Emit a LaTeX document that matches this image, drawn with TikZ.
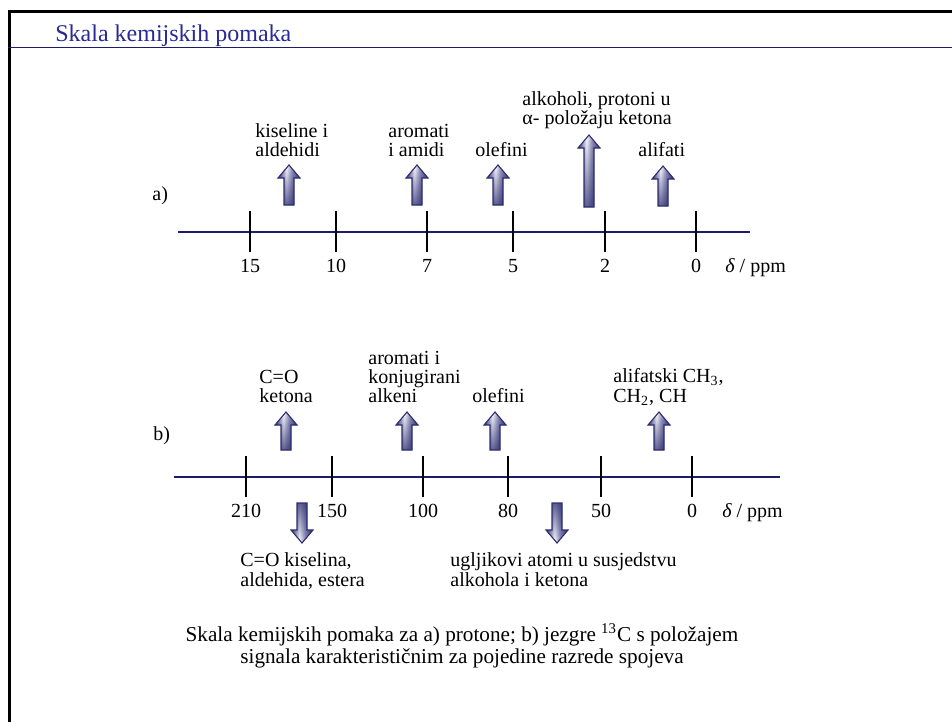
\documentclass[tikz,border=0pt]{standalone}
\usepackage{fontspec}
\setmainfont[Ligatures=NoCommon]{Liberation Serif}
\usetikzlibrary{fadings}
\definecolor{navy}{RGB}{28,28,105}
\definecolor{titleblue}{RGB}{40,40,150}
\definecolor{arrdark}{RGB}{45,45,110}
\definecolor{arrmid}{RGB}{150,150,195}
\pgfdeclarehorizontalshading{arrsh}{100bp}{color(0bp)=(arrdark); color(25bp)=(arrdark); color(34bp)=(arrmid); color(44bp)=(white); color(56bp)=(arrmid); color(75bp)=(arrdark); color(100bp)=(arrdark)}
\tikzfading[name=tailbottom, top color=transparent!100, middle color=transparent!90, bottom color=transparent!25]
\tikzfading[name=tailtop, top color=transparent!25, middle color=transparent!90, bottom color=transparent!100]
\newcommand\UpArr[3]{%
  \path[blockarr] (#1-5,#3) -- (#1-5,#2+13) -- (#1-11,#2+13) -- (#1,#2) -- (#1+11,#2+13) -- (#1+5,#2+13) -- (#1+5,#3) -- cycle;
  \path[fill=arrdark, path fading=tailbottom] (#1-5,#3) -- (#1-5,#2+13) -- (#1-11,#2+13) -- (#1,#2) -- (#1+11,#2+13) -- (#1+5,#2+13) -- (#1+5,#3) -- cycle;}
\newcommand\DownArr[3]{%
  \path[blockarr] (#1-5,#2) -- (#1-5,#3-13) -- (#1-11,#3-13) -- (#1,#3) -- (#1+11,#3-13) -- (#1+5,#3-13) -- (#1+5,#2) -- cycle;
  \path[fill=arrdark, path fading=tailtop] (#1-5,#2) -- (#1-5,#3-13) -- (#1-11,#3-13) -- (#1,#3) -- (#1+11,#3-13) -- (#1+5,#3-13) -- (#1+5,#2) -- cycle;}
\begin{document}
\begin{tikzpicture}[x=0.5pt,y=-0.5pt,
  blockarr/.style={draw=arrdark, line width=0.55pt, shading=arrsh, line join=miter},
  lbl/.style={anchor=base west, inner sep=0pt, font=\fontsize{10}{12}\selectfont},
  num/.style={anchor=base, inner sep=0pt, font=\fontsize{10}{12}\selectfont},
  captext/.style={anchor=base, inner sep=0pt, font=\fontsize{10.6}{12}\selectfont},
  axisline/.style={draw=navy, line width=1.2pt},
  tickline/.style={draw=black, line width=1pt},
  frameline/.style={draw=black, line width=1.5pt}]
\useasboundingbox (0,0) rectangle (952,722);
% frame and title
\coordinate (ftl) at (9,11.5);
\coordinate (ftr) at (952,11.5);
\coordinate (fbl) at (9,722);
\draw[frameline] (ftr) -- (ftl) -- (fbl);
\coordinate (ul) at (8,47.3);
\coordinate (ur) at (952,47.3);
\draw[navy, line width=0.55pt] (ul) -- (ur);
\node[anchor=base west, inner sep=0pt, text=titleblue, font=\fontsize{12}{14}\selectfont] (title) at (55,42) {Skala kemijskih pomaka};

% ---------- scale a ----------
\node[lbl] (la) at (152,200) {a)};
\coordinate (a0) at (178,232);
\coordinate (a1) at (750,232);
\draw[axisline] (a0) -- (a1);
\foreach \x/\v in {250/15,336/10,427/7,513/5,605/2,696/0}{
  \draw[tickline] (\x,211) -- (\x,252);
  \node[num] (na\v) at (\x,272) {\v};
}
\node[lbl] (dela) at (725,272) {{\itshape δ} / ppm};
\UpArr{289}{165}{205}
\UpArr{417}{165}{205}
\UpArr{498}{165}{205}
\UpArr{589}{135}{207}
\UpArr{663}{166}{206}
\node[lbl] (ta1) at (255,137) {kiseline i};
\node[lbl] (ta2) at (255,156) {aldehidi};
\node[lbl] (tb1) at (388,137) {aromati};
\node[lbl] (tb2) at (388,156) {i amidi};
\node[lbl] (tc1) at (475,156) {olefini};
\node[lbl] (td1) at (522,105) {alkoholi, protoni u};
\node[lbl] (td2) at (522,125) {α- položaju ketona};
\node[lbl] (te1) at (638,156) {alifati};

% ---------- scale b ----------
\node[lbl] (lb) at (153,440) {b)};
\coordinate (b0) at (174,477);
\coordinate (b1) at (780,477);
\draw[axisline] (b0) -- (b1);
\foreach \x/\v in {246/210,332/150,423/100,508/80,601/50,692/0}{
  \draw[tickline] (\x,456) -- (\x,497);
  \node[num] (nb\v) at (\x,517) {\v};
}
\node[lbl] (delb) at (722,517) {{\itshape δ} / ppm};
\UpArr{286}{412}{450}
\UpArr{407}{412}{450}
\UpArr{495}{412}{450}
\UpArr{659}{412}{450}
\DownArr{302}{503}{543}
\DownArr{557}{503}{543}
\node[lbl] (ua1) at (259,383) {C=O};
\node[lbl] (ua2) at (259,402) {ketona};
\node[lbl] (ub1) at (368,364) {aromati i};
\node[lbl] (ub2) at (368,383) {konjugirani};
\node[lbl] (ub3) at (368,402) {alkeni};
\node[lbl] (uc1) at (472,402) {olefini};
\node[lbl] (ud1) at (613,382) {alifatski CH\textsubscript{3},};
\node[lbl] (ud2) at (613,402) {CH\textsubscript{2}, CH};
\node[lbl] (da1) at (240,566) {C=O kiselina,};
\node[lbl] (da2) at (240,586) {aldehida, estera};
\node[lbl] (db1) at (450,566) {ugljikovi atomi u susjedstvu};
\node[lbl] (db2) at (450,586) {alkohola i ketona};

% caption
\node[captext] (cap1) at (462,641) {Skala kemijskih pomaka za a) protone; b) jezgre \textsuperscript{13}C s položajem};
\node[captext] (cap2) at (462,663) {signala karakterističnim za pojedine razrede spojeva};
\end{tikzpicture}
\end{document}
